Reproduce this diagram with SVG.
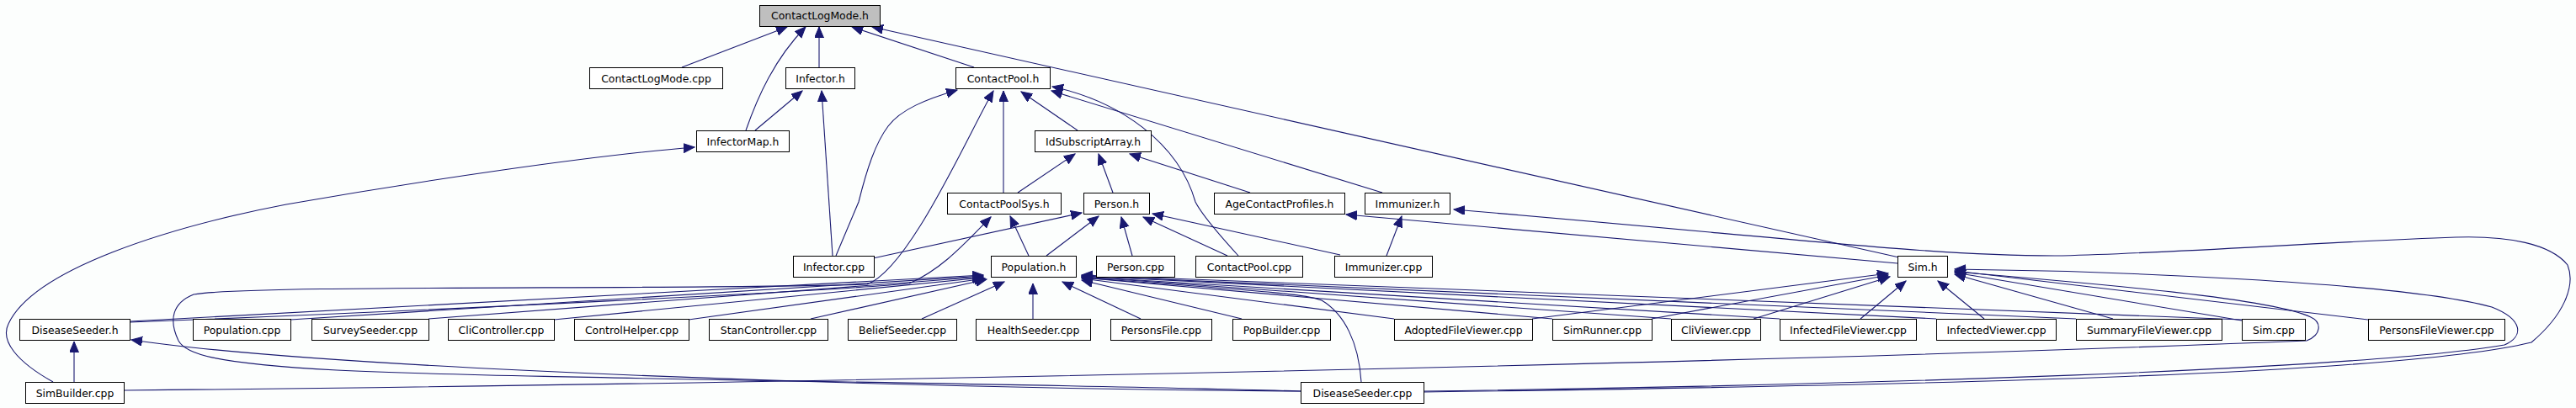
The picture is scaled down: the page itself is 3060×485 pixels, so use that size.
<svg xmlns="http://www.w3.org/2000/svg" width="3060" height="485" viewBox="0 0 3060 485">
<style>
.node rect{fill:#ffffff;stroke:#000000;stroke-width:1}
.node rect.hl{fill:#bfbfbf}
.node text{font-family:"DejaVu Sans","Liberation Sans",sans-serif;font-size:12.4px;fill:#000000;text-anchor:middle}
.edges path{fill:none;stroke:#191970;stroke-width:1.1}
</style>
<defs>
<marker id="ar" markerUnits="userSpaceOnUse" markerWidth="14" markerHeight="12" refX="13" refY="5.5" orient="auto">
<path d="M0,0 L13,5.5 L0,11 z" fill="#191970" stroke="#191970" stroke-width="1"/>
</marker>
</defs>
<rect x="0" y="0" width="3060" height="485" fill="#fcfefd"/>
<g id="edges" class="edges" marker-end="url(#ar)">
<path d="M810,80 L935,32"/>
<path d="M886,155 C900,115 920,70 957,32"/>
<path d="M973,80 L973,32"/>
<path d="M1157,80 L1012,32"/>
<path d="M2256,306 L1036,32"/>
<path d="M993,304 L1020,240 C1030,200 1040,170 1055,150 C1070,130 1100,118 1137,107"/>
<path d="M1545,465 C1200,455 600,450 400,440 C250,432 220,420 212,405 C200,380 205,360 230,350 C300,338 800,345 1030,338 C1080,320 1150,160 1180,108"/>
<path d="M1192,229 L1192,108"/>
<path d="M1280,155 L1213,109"/>
<path d="M1471,304 C1440,270 1425,250 1420,240 C1400,170 1330,120 1250,103"/>
<path d="M1642,229 L1249,108"/>
<path d="M1209,229 L1277,183"/>
<path d="M1322,229 L1305,183"/>
<path d="M1485,229 L1342,183"/>
<path d="M897,155 L953,108"/>
<path d="M989,304 L976,108"/>
<path d="M63,454 C20,430 0,405 10,385 C40,320 200,270 340,243 C500,215 700,185 825,175"/>
<path d="M1222,304 L1200,257"/>
<path d="M154,383 C500,370 1000,345 1080,337 C1120,320 1150,285 1177,258"/>
<path d="M1037,307 L1285,253"/>
<path d="M1243,304 L1305,257"/>
<path d="M1345,304 L1332,258"/>
<path d="M1458,304 L1358,258"/>
<path d="M1592,303 L1369,254"/>
<path d="M2254,313 L1599,255"/>
<path d="M1647,304 L1665,257"/>
<path d="M1691,466 C2300,458 2850,445 3007,407 C3045,375 3060,340 3050,315 C3030,290 2980,280 2917,282 C2750,288 2600,300 2450,304 C2300,305 2150,285 1727,249"/>
<path d="M1691,465 C2200,458 2800,440 2975,410 C2998,400 2998,380 2960,365 C2850,335 2500,322 2322,320"/>
<path d="M147,464 C800,458 2000,435 2740,405 C2758,398 2758,383 2745,377 C2700,355 2500,338 2322,323"/>
<path d="M2813,380 L2322,322"/>
<path d="M2663,381 L2322,324"/>
<path d="M2510,379 L2322,326"/>
<path d="M2357,379 L2302,334"/>
<path d="M2210,379 L2264,334"/>
<path d="M2083,379 L2245,329"/>
<path d="M1962,379 L2243,327"/>
<path d="M1820,379 L2243,325"/>
<path d="M155,382 L1168,327"/>
<path d="M345,380 L1168,328"/>
<path d="M509,379 L1168,329"/>
<path d="M658,380 L1168,330"/>
<path d="M818,380 L1170,331"/>
<path d="M963,379 L1172,332"/>
<path d="M1095,379 L1193,335"/>
<path d="M1227,379 L1227,337"/>
<path d="M1355,379 L1262,335"/>
<path d="M1475,379 L1285,333"/>
<path d="M1656,379 L1285,331"/>
<path d="M1844,379 L1285,330"/>
<path d="M1985,379 L1285,329"/>
<path d="M2114,379 L1285,329"/>
<path d="M2300,379 L1285,328"/>
<path d="M2466,379 L1285,328"/>
<path d="M2663,380 L1285,327"/>
<path d="M1617,454 C1614,407 1597,373 1570,357 C1550,350 1530,348 1285,330"/>
<path d="M88,454 L88,406"/>
<path d="M1545,465 C1100,462 400,440 156,404"/>
</g>
<g id="n_ContactLogMode_h" class="node"><rect class="hl" x="902.5" y="6.5" width="143" height="25"/><text x="974" y="23">ContactLogMode.h</text></g>
<g id="n_ContactLogMode_cpp" class="node"><rect x="700.5" y="80.5" width="158" height="25"/><text x="779.5" y="97.5">ContactLogMode.cpp</text></g>
<g id="n_Infector_h" class="node"><rect x="933.5" y="80.5" width="82" height="25"/><text x="974.5" y="97.5">Infector.h</text></g>
<g id="n_ContactPool_h" class="node"><rect x="1135.5" y="80.5" width="112" height="25"/><text x="1191.5" y="97.5">ContactPool.h</text></g>
<g id="n_InfectorMap_h" class="node"><rect x="827.5" y="155.5" width="110" height="25"/><text x="882.5" y="172.5">InfectorMap.h</text></g>
<g id="n_IdSubscriptArray_h" class="node"><rect x="1229.5" y="155.5" width="138" height="25"/><text x="1298.5" y="172.5">IdSubscriptArray.h</text></g>
<g id="n_ContactPoolSys_h" class="node"><rect x="1125.5" y="229.5" width="135" height="25"/><text x="1193" y="246.5">ContactPoolSys.h</text></g>
<g id="n_Person_h" class="node"><rect x="1287.5" y="229.5" width="78" height="25"/><text x="1326.5" y="246.5">Person.h</text></g>
<g id="n_AgeContactProfiles_h" class="node"><rect x="1442.5" y="229.5" width="155" height="25"/><text x="1520" y="246.5">AgeContactProfiles.h</text></g>
<g id="n_Immunizer_h" class="node"><rect x="1621.5" y="229.5" width="101" height="25"/><text x="1672" y="246.5">Immunizer.h</text></g>
<g id="n_Infector_cpp" class="node"><rect x="942.5" y="304.5" width="96" height="25"/><text x="990.5" y="321.5">Infector.cpp</text></g>
<g id="n_Population_h" class="node"><rect x="1177.5" y="304.5" width="101" height="25"/><text x="1228" y="321.5">Population.h</text></g>
<g id="n_Person_cpp" class="node"><rect x="1302.5" y="304.5" width="93" height="25"/><text x="1349" y="321.5">Person.cpp</text></g>
<g id="n_ContactPool_cpp" class="node"><rect x="1420.5" y="304.5" width="127" height="25"/><text x="1484" y="321.5">ContactPool.cpp</text></g>
<g id="n_Immunizer_cpp" class="node"><rect x="1585.5" y="304.5" width="116" height="25"/><text x="1643.5" y="321.5">Immunizer.cpp</text></g>
<g id="n_Sim_h" class="node"><rect x="2254.5" y="304.5" width="59" height="25"/><text x="2284" y="321.5">Sim.h</text></g>
<g id="n_DiseaseSeeder_h" class="node"><rect x="23.5" y="379.5" width="131" height="25"/><text x="89" y="396.5">DiseaseSeeder.h</text></g>
<g id="n_Population_cpp" class="node"><rect x="229.5" y="379.5" width="116" height="25"/><text x="287.5" y="396.5">Population.cpp</text></g>
<g id="n_SurveySeeder_cpp" class="node"><rect x="370.5" y="379.5" width="139" height="25"/><text x="440" y="396.5">SurveySeeder.cpp</text></g>
<g id="n_CliController_cpp" class="node"><rect x="532.5" y="379.5" width="126" height="25"/><text x="595.5" y="396.5">CliController.cpp</text></g>
<g id="n_ControlHelper_cpp" class="node"><rect x="682.5" y="379.5" width="136" height="25"/><text x="750.5" y="396.5">ControlHelper.cpp</text></g>
<g id="n_StanController_cpp" class="node"><rect x="842.5" y="379.5" width="141" height="25"/><text x="913" y="396.5">StanController.cpp</text></g>
<g id="n_BeliefSeeder_cpp" class="node"><rect x="1007.5" y="379.5" width="129" height="25"/><text x="1072" y="396.5">BeliefSeeder.cpp</text></g>
<g id="n_HealthSeeder_cpp" class="node"><rect x="1159.5" y="379.5" width="136" height="25"/><text x="1227.5" y="396.5">HealthSeeder.cpp</text></g>
<g id="n_PersonsFile_cpp" class="node"><rect x="1319.5" y="379.5" width="120" height="25"/><text x="1379.5" y="396.5">PersonsFile.cpp</text></g>
<g id="n_PopBuilder_cpp" class="node"><rect x="1464.5" y="379.5" width="116" height="25"/><text x="1522.5" y="396.5">PopBuilder.cpp</text></g>
<g id="n_AdoptedFileViewer_cpp" class="node"><rect x="1656.5" y="379.5" width="164" height="25"/><text x="1738.5" y="396.5">AdoptedFileViewer.cpp</text></g>
<g id="n_SimRunner_cpp" class="node"><rect x="1844.5" y="379.5" width="118" height="25"/><text x="1903.5" y="396.5">SimRunner.cpp</text></g>
<g id="n_CliViewer_cpp" class="node"><rect x="1985.5" y="379.5" width="106" height="25"/><text x="2038.5" y="396.5">CliViewer.cpp</text></g>
<g id="n_InfectedFileViewer_cpp" class="node"><rect x="2114.5" y="379.5" width="162" height="25"/><text x="2195.5" y="396.5">InfectedFileViewer.cpp</text></g>
<g id="n_InfectedViewer_cpp" class="node"><rect x="2300.5" y="379.5" width="142" height="25"/><text x="2371.5" y="396.5">InfectedViewer.cpp</text></g>
<g id="n_SummaryFileViewer_cpp" class="node"><rect x="2466.5" y="379.5" width="173" height="25"/><text x="2553" y="396.5">SummaryFileViewer.cpp</text></g>
<g id="n_Sim_cpp" class="node"><rect x="2663.5" y="379.5" width="75" height="25"/><text x="2701" y="396.5">Sim.cpp</text></g>
<g id="n_PersonsFileViewer_cpp" class="node"><rect x="2813.5" y="379.5" width="162" height="25"/><text x="2894.5" y="396.5">PersonsFileViewer.cpp</text></g>
<g id="n_SimBuilder_cpp" class="node"><rect x="30.5" y="454.5" width="117" height="25"/><text x="89" y="471.5">SimBuilder.cpp</text></g>
<g id="n_DiseaseSeeder_cpp" class="node"><rect x="1545.5" y="454.5" width="146" height="25"/><text x="1618.5" y="471.5">DiseaseSeeder.cpp</text></g>
</svg>
